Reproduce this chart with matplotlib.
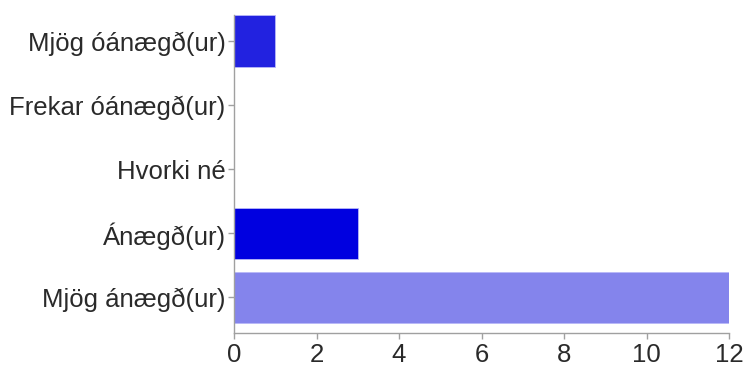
import numpy as np
import matplotlib.pyplot as plt

plt.rcParams['font.family'] = ['Liberation Sans', 'DejaVu Sans']

# categories and counts, top to bottom
categories = ['Mjög óánægð(ur)', 'Frekar óánægð(ur)', 'Hvorki né', 'Ánægð(ur)', 'Mjög ánægð(ur)']
counts = [1, 0, 0, 3, 12]
colors = ['#2222e0', '#3333dd', '#5555e5', '#0000e0', '#8484ec']

fig = plt.figure(figsize=(7.47, 3.69), dpi=100)
ax = fig.add_axes([0.3133, 0.0976, 0.976 - 0.3133, 0.9593 - 0.0976])

pos = np.arange(len(categories))
ax.barh(pos, counts, height=0.8, color=colors, edgecolor='#b8b8f8', linewidth=0.6)

ax.set_ylim(4.555, -0.406)
ax.set_xlim(0, 12)
ax.set_xticks(np.arange(0, 13, 2))
ax.set_yticks(pos)
ax.set_yticklabels(categories)

for s in ['top', 'right']:
    ax.spines[s].set_visible(False)
for s in ['left', 'bottom']:
    ax.spines[s].set_color('#a0a0a0')
    ax.spines[s].set_linewidth(1)

ax.tick_params(axis='both', colors='#a0a0a0', labelcolor='#2a2a2a', labelsize=18.5, length=4, width=1)
ax.tick_params(axis='x', pad=3)
ax.tick_params(axis='y', pad=2)

fig.savefig('out.png', dpi=100)
